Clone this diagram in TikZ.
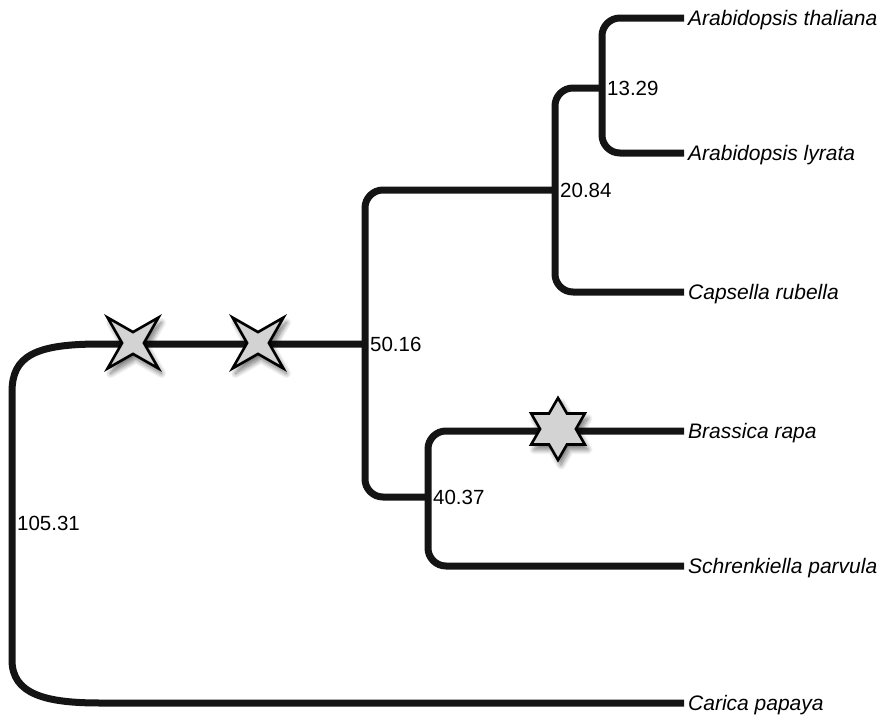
\documentclass[tikz,border=0pt]{standalone}
\usepackage{fontspec}
\setmainfont{Liberation Sans}
\usetikzlibrary{shapes.geometric,shadows.blur,calc}

\definecolor{branchcol}{HTML}{141414}
\definecolor{starfill}{HTML}{D3D3D3}

\tikzset{
  branch/.style={draw=branchcol, line width=7pt, rounded corners=18pt, line cap=butt},
  leaf/.style={anchor=west, inner xsep=4pt, inner ysep=0pt, text depth=0pt, text height=15pt,
               font=\fontsize{21}{25}\selectfont\itshape},
  num/.style={anchor=west, inner xsep=5pt, inner ysep=0pt, text depth=0pt, text height=14.6pt,
              font=\fontsize{20.5}{24}\selectfont},
  marker/.style={draw=black, fill=starfill, line width=2.6pt, inner sep=0pt, line join=miter,
                 blur shadow={shadow xshift=3pt, shadow yshift=-5pt, shadow blur steps=10,
                              shadow opacity=55, shadow blur radius=5pt}},
  cross/.style={marker, star, star points=4, star point ratio=3.3, minimum size=72pt,
                shape border rotate=45},
  hexstar/.style={marker, star, star points=6, star point ratio=1.73, minimum size=62pt}
}

\begin{document}
\begin{tikzpicture}[x=1pt, y=-1pt]
  \useasboundingbox (0,0) rectangle (887,715);

  % internal nodes (branch points)
  \coordinate (n105) at (12,523);
  \coordinate (n50)  at (365,344);
  \coordinate (n20)  at (555,190);
  \coordinate (n13)  at (602,88);
  \coordinate (n40)  at (428,497);

  % leaves
  \node[leaf] (ath) at (684,18)  {Arabidopsis thaliana};
  \node[leaf] (aly) at (684,153) {Arabidopsis lyrata};
  \node[leaf] (cru) at (684,292) {Capsella rubella};
  \node[leaf] (bra) at (684,431) {Brassica rapa};
  \node[leaf] (spa) at (684,566) {Schrenkiella parvula};
  \node[leaf] (cpa) at (684,703) {Carica papaya};

  % branches
  \draw[branch] (ath.west) -| (n13) |- (aly.west);
  \draw[branch] (n13) -| (n20) |- (cru.west);
  \draw[branch] (n20) -| (n50) |- (n40);
  \draw[branch] (bra.west) -| (n40) |- (spa.west);

  % root with wide rounded corners
  \coordinate (rtop) at (100,344);
  \coordinate (rbot) at (100,703);
  \draw[draw=branchcol, line width=7pt]
    (n50) -- (rtop)
    .. controls (35,344) and (12,356) .. (12,392)
    -- (12,660)
    .. controls (12,694) and (45,703) .. (rbot)
    -- (cpa.west);

  % support values
  \node[num] (l13)  at (n13)  {13.29};
  \node[num] (l20)  at (n20)  {20.84};
  \node[num] (l50)  at (n50)  {50.16};
  \node[num] (l40)  at (n40)  {40.37};
  \node[num] (l105) at (n105) {105.31};

  % event markers on branches
  \node[cross] (x1) at (133,343) {};
  \node[cross] (x2) at (258,343) {};
  \node[hexstar] (h1) at (558,429) {};
\end{tikzpicture}
\end{document}
